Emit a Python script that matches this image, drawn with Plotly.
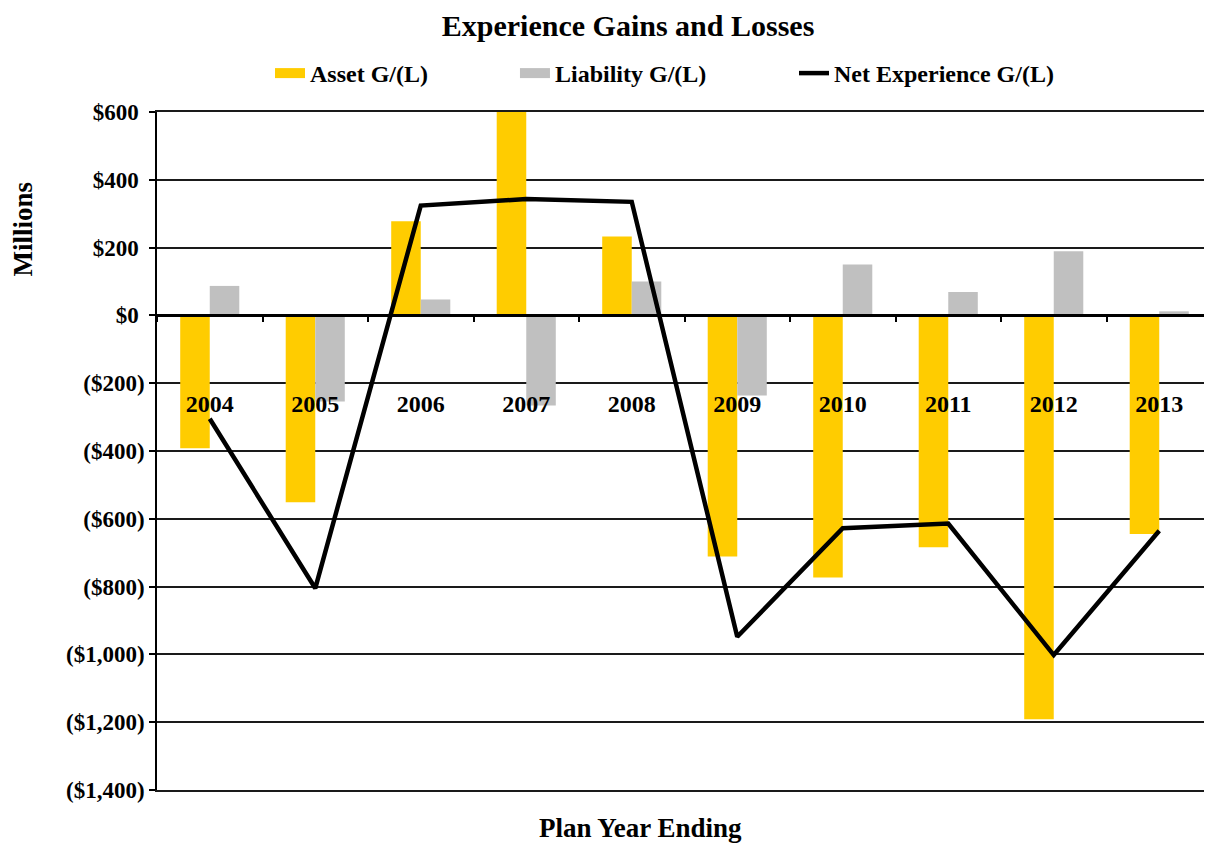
import plotly.graph_objects as go

years = ["2004", "2005", "2006", "2007", "2008", "2009", "2010", "2011", "2012", "2013"]
asset_gl = [-392, -551, 278, 609, 233, -711, -773, -684, -1191, -645]
liability_gl = [87, -254, 47, -266, 100, -236, 150, 69, 189, 12]
net_gl = [-305, -805, 324, 343, 335, -948, -628, -614, -1002, -635]

y_tickvals = [600, 400, 200, 0, -200, -400, -600, -800, -1000, -1200, -1400]
y_ticktext = ["$600\u00a0", "$400\u00a0", "$200\u00a0", "$0\u00a0", "($200)", "($400)", "($600)",
              "($800)", "($1,000)", "($1,200)", "($1,400)"]

FONT = "Liberation Serif"
YELLOW = "#FFCC00"
GRAY = "#C0C0C0"

fig = go.Figure()
fig.add_trace(go.Bar(x=years, y=asset_gl, name="Asset G/(L)", marker_color=YELLOW,
                     marker_line_width=0, showlegend=False, legendgroup="a"))
fig.add_trace(go.Bar(x=years, y=liability_gl, name="Liability G/(L)", marker_color=GRAY,
                     marker_line_width=0, showlegend=False, legendgroup="l"))
fig.add_trace(go.Scatter(x=years, y=net_gl, name="Net Experience G/(L)", mode="lines",
                         line=dict(color="black", width=4.5), legend="legend3"))
# legend swatches (wide rectangles like the original); placed on the frame axis x2
fig.add_trace(go.Scatter(x=[None], y=[None], name="Asset G/(L)", mode="lines",
                         line=dict(color=YELLOW, width=13), legend="legend",
                         legendgroup="a", hoverinfo="skip", xaxis="x2"))
fig.add_trace(go.Scatter(x=[None], y=[None], name="Liability G/(L)", mode="lines",
                         line=dict(color=GRAY, width=13), legend="legend2",
                         legendgroup="l", hoverinfo="skip", xaxis="x2"))

LEG_FONT = dict(family=FONT, size=24, color="black", weight="bold")
LEG_Y = 1 + (104 - 65.5) / 678


def leg(x):
    return dict(orientation="h", x=x, y=LEG_Y, xanchor="left", yanchor="middle",
                font=LEG_FONT, bgcolor="rgba(0,0,0,0)", borderwidth=0)


fig.update_layout(
    width=1204, height=838,
    margin=dict(l=149, r=0, t=104, b=56),
    paper_bgcolor="white", plot_bgcolor="white",
    barmode="group", bargap=0.44, bargroupgap=0,
    font=dict(family=FONT, size=23, color="black", weight="bold"),
    title=dict(text="Experience Gains and Losses", xref="container", x=0.515,
               y=1 - 17 / 838, yanchor="middle", xanchor="center",
               font=dict(family=FONT, size=30, color="black", weight="bold")),
    legend=leg(0.1071),
    legend2=leg(0.3393),
    legend3=leg(0.6038),
    showlegend=True,
)

fig.update_xaxes(type="category", anchor="free", position=0.7,
                 showline=True, linecolor="black", linewidth=2.5,
                 ticks="outside", tickson="boundaries", ticklen=5, tickwidth=2,
                 tickcolor="black", showgrid=False, ticklabelstandoff=66,
                 tickfont=dict(family=FONT, size=24, color="black", weight="bold"))
fig.update_yaxes(range=[-1400, 600], tickvals=y_tickvals, ticktext=y_ticktext,
                 showgrid=True, gridcolor="#1a1a1a", gridwidth=1.6,
                 showline=True, linecolor="black", linewidth=1.6,
                 ticks="outside", ticklen=6, tickcolor="black", tickwidth=1.6,
                 zeroline=False,
                 tickfont=dict(family=FONT, size=23, color="black", weight="bold"))
# frame lines at top ($600) and bottom ($1,400) of the plot area
fig.update_layout(xaxis2=dict(overlaying="x", anchor="y", side="bottom", showline=True,
                              mirror=True, linecolor="#1a1a1a", linewidth=1.6,
                              showticklabels=False, ticks="", showgrid=False,
                              zeroline=False, range=[0, 1], fixedrange=True))

fig.add_annotation(text="Millions", xref="paper", yref="paper",
                   x=(14.5 - 149) / 1055, y=(782 - 221) / 678, textangle=-90,
                   showarrow=False, xanchor="center", yanchor="middle",
                   font=dict(family=FONT, size=27, color="black", weight="bold"))
fig.add_annotation(text="Plan Year Ending", xref="paper", yref="paper",
                   x=(632 - 149) / 1055, y=-(820 - 782) / 678,
                   showarrow=False, xanchor="center", yanchor="middle",
                   font=dict(family=FONT, size=27, color="black", weight="bold"))

fig.write_html("out.html")
